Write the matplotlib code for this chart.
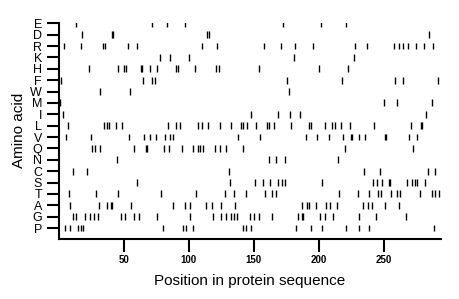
import matplotlib
matplotlib.use("Agg")
import matplotlib.pyplot as plt

plt.rcParams['font.family'] = ['Liberation Sans', 'DejaVu Sans']

# amino acids from bottom to top
amino_acids = ['P', 'G', 'A', 'T', 'S', 'C', 'N', 'Q', 'V', 'L',
               'I', 'M', 'W', 'F', 'H', 'K', 'R', 'D', 'E']

# positions of each residue in the sequence
pos_E = [13, 72, 83, 97, 173, 202, 221]
pos_D = [18, 41, 42, 114, 116, 285]
pos_R = [4, 17, 34, 36, 53, 60, 110, 122, 158, 171, 182, 196, 228, 237,
         258, 262, 265, 269, 275, 281, 288]
pos_K = [78, 86, 100, 181, 227]
pos_H = [23, 46, 50, 52, 63, 64, 70, 76, 90, 92, 105, 121, 123, 154, 200, 223]
pos_F = [2, 65, 72, 74, 176, 218, 259, 265, 292]
pos_W = [32, 55, 177]
pos_M = [1, 250, 260, 287]
pos_I = [3, 148, 169, 178, 186, 283]
pos_L = [7, 35, 37, 39, 44, 49, 84, 90, 93, 107, 110, 115, 124, 133, 140,
         142, 145, 152, 160, 162, 166, 179, 193, 194, 205, 210, 213, 217,
         224, 243, 271, 279, 280]
pos_V = [6, 25, 54, 66, 70, 75, 82, 86, 88, 138, 155, 190, 199, 208, 219,
         225, 226, 231, 236, 251, 252, 270, 276]
pos_Q = [26, 28, 32, 58, 67, 68, 81, 85, 95, 103, 107, 109, 111, 120, 124,
         129, 142, 220, 273]
pos_N = [45, 162, 167, 174, 215]
pos_C = [11, 22, 131, 235, 247, 284, 290]
pos_S = [60, 132, 151, 157, 163, 169, 172, 174, 203, 242, 245, 249, 254,
         255, 268, 272, 274, 276, 282]
pos_T = [8, 29, 46, 79, 106, 128, 135, 144, 159, 164, 167, 216, 230, 239,
         246, 248, 256, 260, 263, 278, 287, 290, 293]
pos_A = [9, 31, 37, 40, 41, 56, 88, 97, 101, 113, 118, 125, 136, 187, 191,
         193, 198, 206, 209, 214, 234, 238, 241, 251, 262]
pos_G = [11, 13, 20, 24, 27, 30, 48, 51, 58, 62, 76, 101, 119, 125, 129,
         133, 135, 137, 147, 150, 154, 164, 184, 187, 188, 201, 205, 211,
         231, 244, 267]
pos_P = [5, 9, 15, 17, 19, 80, 96, 98, 103, 142, 144, 148, 183, 194, 203,
         221, 231, 239, 289]

positions = {
    'E': pos_E, 'D': pos_D, 'R': pos_R, 'K': pos_K, 'H': pos_H, 'F': pos_F,
    'W': pos_W, 'M': pos_M, 'I': pos_I, 'L': pos_L, 'V': pos_V, 'Q': pos_Q,
    'N': pos_N, 'C': pos_C, 'S': pos_S, 'T': pos_T, 'A': pos_A, 'G': pos_G,
    'P': pos_P,
}

fig = plt.figure(figsize=(4.6, 2.99), dpi=100)
ax = fig.add_axes([0.1276, 0.2017, 0.8304, 0.7223])

for i, aa in enumerate(amino_acids):
    ax.vlines(positions[aa], i - 0.3, i + 0.3, color='black', linewidth=1.0)

ax.set_xlim(0, 294)
ax.set_ylim(-0.94, 18.05)

ax.set_yticks(range(len(amino_acids)), labels=amino_acids)
ax.set_xticks([50, 100, 150, 200, 250])

for side in ['top', 'right']:
    ax.spines[side].set_visible(False)
for side in ['left', 'bottom']:
    ax.spines[side].set_linewidth(1.5)

ax.tick_params(axis='y', length=9, width=1.5, labelsize=9, pad=3)
ax.tick_params(axis='x', length=9, width=1.5, labelsize=7, pad=3)
for lab in ax.get_xticklabels():
    lab.set_fontweight('bold')

ax.set_xlabel('Position in protein sequence', fontsize=11, labelpad=6)
ax.set_ylabel('Amino acid', fontsize=11, labelpad=3)

fig.savefig('out.png', dpi=100)
